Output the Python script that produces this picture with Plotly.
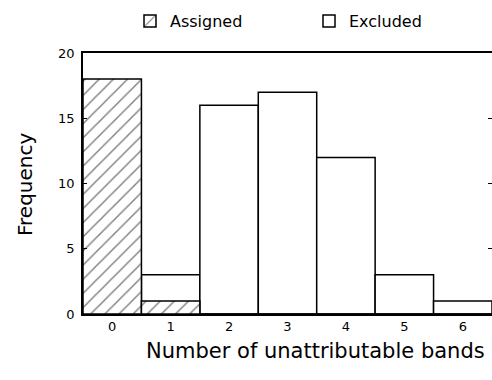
import plotly.graph_objects as go

categories = [0, 1, 2, 3, 4, 5, 6]
assigned = [18, 1, 0, 0, 0, 0, 0]
excluded = [0, 3, 16, 17, 12, 3, 1]
y_ticks = [0, 5, 10, 15, 20]

FONT = "DejaVu Sans"

fig = go.Figure()
fig.add_trace(go.Bar(
    x=categories, y=excluded, name="Excluded", width=1,
    marker=dict(color="white", line=dict(color="black", width=1.5)),
    legendrank=2,
))
fig.add_trace(go.Bar(
    x=categories, y=assigned, name="Assigned", width=1,
    marker=dict(color="white", line=dict(color="black", width=1.5),
                pattern=dict(shape="/", fgcolor="black", bgcolor="white",
                             size=10, solidity=0.14)),
    legendrank=1,
))
# invisible trace for right-side ticks
fig.add_trace(go.Scatter(x=[categories[0]], y=[0], yaxis="y2", mode="markers",
                         marker=dict(opacity=0), showlegend=False, hoverinfo="skip"))

fig.update_layout(
    width=492, height=380,
    margin=dict(l=83, r=0, t=53, b=66, autoexpand=False),
    barmode="overlay",
    plot_bgcolor="white", paper_bgcolor="white",
    font=dict(family=FONT, color="black", size=13),
    showlegend=True,
    legend=dict(orientation="h", xref="container", yref="container",
                x=130 / 492, y=1 - 4 / 380, xanchor="left", yanchor="top",
                font=dict(size=16, family=FONT), entrywidth=134,
                itemwidth=30, bgcolor="rgba(0,0,0,0)"),
    xaxis=dict(range=[-0.5, 6.5], tickvals=categories, ticktext=[str(c) for c in categories],
               showline=True, linecolor="black", linewidth=1.5, mirror=True,
               ticks="", showgrid=False, zeroline=False, automargin=False,
               tickfont=dict(size=13)),
    yaxis=dict(range=[0, 20], tickvals=y_ticks, showline=True, linecolor="black",
               linewidth=1.5, ticks="inside", ticklen=4, tickcolor="black",
               showgrid=False, zeroline=False, automargin=False,
               ticklabelstandoff=4, tickfont=dict(size=13)),
    yaxis2=dict(range=[0, 20], overlaying="y", side="right", tickvals=[5, 10, 15],
                ticks="inside", ticklen=4, tickcolor="black", showticklabels=False,
                showgrid=False, zeroline=False, showline=False, automargin=False),
    annotations=[
        dict(text="Number of unattributable bands", xref="paper", yref="paper",
             x=(315 - 83) / 409, y=-(351 - 314) / 261, xanchor="center", yanchor="middle",
             showarrow=False, font=dict(size=21, family=FONT)),
        dict(text="Frequency", xref="paper", yref="paper", textangle=-90,
             x=-(83 - 25) / 409, y=0.5 - (185 - 183.5) / 261, xanchor="center", yanchor="middle",
             showarrow=False, font=dict(size=20, family=FONT)),
    ],
)

fig.write_html("out.html", config={"displayModeBar": False},
               post_script="document.body.style.margin='0';document.body.style.padding='0';")
